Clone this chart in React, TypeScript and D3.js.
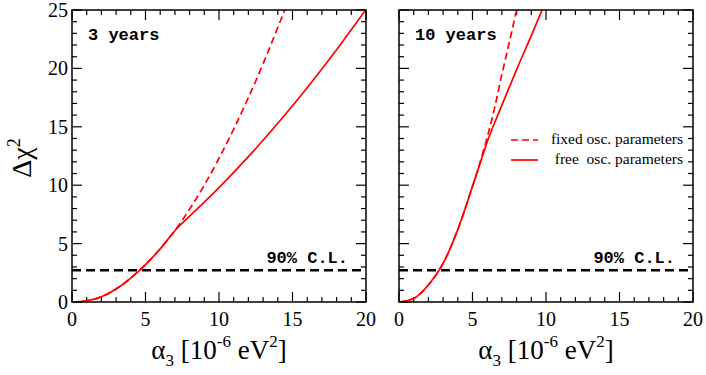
import React from 'react';
import * as d3 from 'd3';

// Δχ² vs α3
const leftFreeX = [0, 1, 2, 3, 4, 5, 6, 7, 8, 9, 10, 11, 12, 13, 14, 15, 16, 17, 18, 19, 20];
const leftFreeY = [0, 0.1, 0.45, 1.12, 2.05, 3.2, 4.55, 6.1, 7.35, 8.55, 9.8, 11.1, 12.45, 13.85, 15.3, 16.8, 18.35, 19.95, 21.6, 23.3, 25.05];
const leftFixedX = [0, 1, 2, 3, 4, 5, 6, 7, 8, 9, 10, 11, 12, 13, 14, 14.6];
const leftFixedY = [0, 0.1, 0.45, 1.12, 2.05, 3.2, 4.55, 6.1, 7.95, 10.0, 12.3, 14.8, 17.5, 20.4, 23.5, 25.4];

const rightFreeX = [0, 1, 2, 3, 4, 5, 5.5, 6, 7, 8, 9, 10];
const rightFreeY = [0, 0.3, 1.45, 3.3, 6.2, 9.9, 11.8, 13.7, 16.85, 19.9, 22.8, 25.8];
const rightFixedX = [0, 1, 2, 3, 4, 5, 5.5, 6, 6.5, 7, 7.5, 8, 8.2];
const rightFixedY = [0, 0.3, 1.45, 3.3, 6.2, 9.9, 11.9, 14.1, 16.6, 19.5, 22.2, 25.0, 26.1];

const panelLabels = ['3 years', '10 years'];
const clLevel = 2.71;
const xTicks = [0, 5, 10, 15, 20];
const yTicks = [0, 5, 10, 15, 20, 25];
const legendLabels = ['fixed osc. parameters', 'free  osc. parameters'];

const serif = { fontFamily: "'Liberation Serif', 'Times New Roman', Times, serif" };
const mono = { fontFamily: "'Liberation Mono', 'Courier New', monospace", fontWeight: 'bold' as const };

const top = 10, bottom = 302;
const panels = [
  { x0: 72, x1: 366, free: [leftFreeX, leftFreeY], fixed: [leftFixedX, leftFixedY], label: panelLabels[0], yLabels: true },
  { x0: 399, x1: 693, free: [rightFreeX, rightFreeY], fixed: [rightFixedX, rightFixedY], label: panelLabels[1], yLabels: false },
];

function Panel({ p, idx }: any) {
  const x = d3.scaleLinear().domain([0, 20]).range([p.x0, p.x1]);
  const y = d3.scaleLinear().domain([0, 25]).range([bottom, top]);
  const line = d3.line<[number, number]>()
    .x(d => x(d[0]))
    .y(d => y(d[1]))
    .curve(d3.curveMonotoneX);
  const pts = (xs: number[], ys: number[]) => xs.map((v, i) => [v, ys[i]] as [number, number]);
  const minorX = d3.range(0, 21, 1);
  const minorY = d3.range(0, 26, 1);
  const clipId = `clip${idx}`;
  const mid = (p.x0 + p.x1) / 2;

  return (
    <g>
      <clipPath id={clipId}>
        <rect x={p.x0} y={top} width={p.x1 - p.x0} height={bottom - top} />
      </clipPath>

      {/* ticks on all four sides, pointing in */}
      {minorX.map(v => {
        const len = v % 5 === 0 ? 10 : 5;
        return (
          <g key={'x' + v} stroke="#000" strokeWidth={1.2}>
            <line x1={x(v)} x2={x(v)} y1={bottom} y2={bottom - len} />
            <line x1={x(v)} x2={x(v)} y1={top} y2={top + len} />
          </g>
        );
      })}
      {minorY.map(v => {
        const len = v % 5 === 0 ? 10 : 5;
        return (
          <g key={'y' + v} stroke="#000" strokeWidth={1.2}>
            <line x1={p.x0} x2={p.x0 + len} y1={y(v)} y2={y(v)} />
            <line x1={p.x1} x2={p.x1 - len} y1={y(v)} y2={y(v)} />
          </g>
        );
      })}

      {xTicks.map(v => (
        <text key={'xl' + v} x={x(v)} y={326} textAnchor="middle" style={serif} fontSize={20}>{v}</text>
      ))}
      {p.yLabels && yTicks.map(v => (
        <text key={'yl' + v} x={p.x0 - 4} y={y(v) + 7} textAnchor="end" style={serif} fontSize={20}>{v}</text>
      ))}

      <g clipPath={`url(#${clipId})`}>
        <line x1={p.x0} x2={p.x1} y1={y(clLevel)} y2={y(clLevel)} stroke="#000" strokeWidth={2.5} strokeDasharray="9,5" />
        <path d={line(pts(p.fixed[0], p.fixed[1])) || ''} fill="none" stroke="#ff0000" strokeWidth={1.7} strokeDasharray="7,4" />
        <path d={line(pts(p.free[0], p.free[1])) || ''} fill="none" stroke="#ff0000" strokeWidth={1.7} />
      </g>

      <rect x={p.x0} y={top} width={p.x1 - p.x0} height={bottom - top} fill="none" stroke="#000" strokeWidth={1.5} />

      <text x={p.x0 + 16} y={40} style={mono} fontSize={17}>{p.label}</text>
      <text x={p.x1 - 18} y={263} textAnchor="end" style={mono} fontSize={17}>90% C.L.</text>

      <text x={mid} y={359} textAnchor="middle" style={serif} fontSize={27}>
        α<tspan fontSize={17} dy={7}>3</tspan>
        <tspan dy={-7}> [10</tspan>
        <tspan fontSize={17} dy={-12}>-6</tspan>
        <tspan dy={12}> eV</tspan>
        <tspan fontSize={17} dy={-12}>2</tspan>
        <tspan dy={12}>]</tspan>
      </text>

      {idx === 1 && (
        <g>
          <line x1={511} x2={538} y1={140} y2={140} stroke="#ff0000" strokeWidth={1.7} strokeDasharray="7,4" />
          <line x1={511} x2={538} y1={160} y2={160} stroke="#ff0000" strokeWidth={1.7} />
          <text x={683} y={144} textAnchor="end" style={serif} fontSize={15.5}>{legendLabels[0]}</text>
          <text x={683} y={164} textAnchor="end" style={{ ...serif, whiteSpace: 'pre' }} fontSize={15.5}>{legendLabels[1]}</text>
        </g>
      )}
    </g>
  );
}

export default function App() {
  return (
    <svg width={706} height={375} style={{ position: 'absolute', left: 0, top: 0, background: '#fff' }}>
      {panels.map((p, i) => <Panel key={i} p={p} idx={i} />)}
      <text transform="translate(31,158) rotate(-90)" textAnchor="middle" style={serif} fontSize={28}>
        Δχ<tspan fontSize={18} dy={-11}>2</tspan>
      </text>
    </svg>
  );
}
